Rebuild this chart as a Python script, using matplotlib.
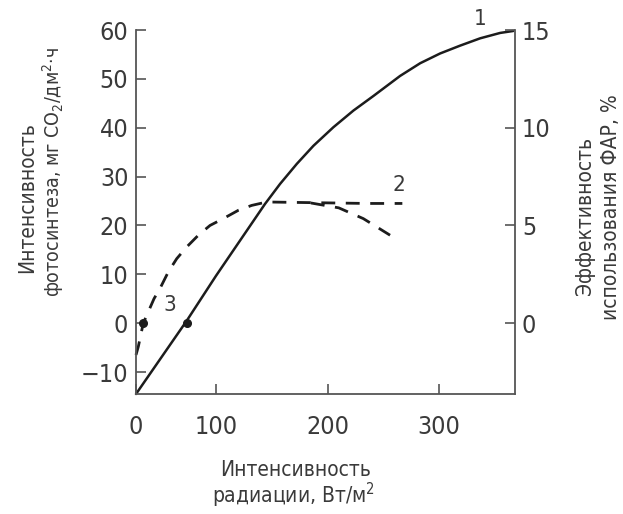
import numpy as np
import matplotlib
matplotlib.use("Agg")
import matplotlib.pyplot as plt
from matplotlib import font_manager

# ---------------- data ----------------
# Curve 1: photosynthesis intensity (left axis)
c1_x = [0, 63.4, 100, 121.5, 143.9, 157.4, 172.4, 187.3, 205.2, 223.1, 241.1,
        265.0, 283.0, 300.9, 318.8, 336.8, 354.7, 366.4]
c1_y = [-14.5, 0.5, 9.7, 16.9, 24.4, 28.5, 32.6, 36.3, 40.1, 43.5, 46.5,
        50.6, 53.2, 55.2, 56.8, 58.3, 59.4, 59.8]
# Curve 2: PAR use efficiency (dashed, in left-axis units)
c2_x = [0, 2.9, 9.1, 22.5, 30.9, 40.4, 50.9, 63.4, 77.9, 92.5, 106.5, 120,
        132, 145.5, 175, 205, 235, 267]
c2_y = [-6.5, -4.8, 0, 5.0, 7.4, 10.5, 13.2, 15.6, 18.0, 20.0, 21.4, 23.1,
        24.1, 24.8, 24.7, 24.6, 24.5, 24.5]
# Curve 2 descending branch
c2b_x = [185, 210, 232, 256]
c2b_y = [24.6, 23.6, 21.4, 18.0]
# Points 3 (compensation points)
p3_x = [9.1, 63.4]
p3_y = [0, 0]

x_ticks = [0, 100, 200, 300]
x_ticklabels = ["0", "100", "200", "300"]
yl_ticks = [-10, 0, 10, 20, 30, 40, 50, 60]
yl_ticklabels = ["\u221210", "0", "10", "20", "30", "40", "50", "60"]
yr_ticks = [0, 5, 10, 15]
yr_ticklabels = ["0", "5", "10", "15"]

curve_labels = ["1", "2", "3"]
curve_label_pos = [(336.8, 62.2), (263.5, 28.2), (42.5, 3.7)]

ylabel_left = ["Интенсивность", "фотосинтеза, мг CO$_2$/дм$^2$·ч"]
ylabel_right = ["Эффективность", "использования ФАР, %"]
xlabel = ["Интенсивность", "радиации, Вт/м$^2$"]

# ---------------- style ----------------
names = {f.name for f in font_manager.fontManager.ttflist}
if "Liberation Sans Narrow" in names:
    FONT = ["Liberation Sans Narrow", "DejaVu Sans"]
else:
    FONT = ["DejaVu Sans"]
plt.rcParams["font.family"] = FONT
plt.rcParams["font.stretch"] = "condensed"
plt.rcParams["mathtext.fontset"] = "custom"
plt.rcParams["mathtext.rm"] = FONT[0] + ":stretch=condensed"
plt.rcParams["mathtext.it"] = FONT[0] + ":stretch=condensed"
TXT = "#3a3a3a"
LINE = "#1c1c1c"
SPINE = "#555555"

W, H = 623, 514
fig = plt.figure(figsize=(W / 100, H / 100), dpi=100)
ax = fig.add_axes([136 / W, (H - 394) / H, (515 - 136) / W, (394 - 30) / H])

# compressed first interval of x axis (as in the original drawing)
k = 0.8 / 1.115
def fwd(x):
    x = np.asarray(x, dtype=float)
    return np.where(x <= 100, x * k, 100 * k + (x - 100))
def inv(u):
    u = np.asarray(u, dtype=float)
    return np.where(u <= 100 * k, u / k, u - 100 * k + 100)
ax.set_xscale("function", functions=(fwd, inv))

ax.plot(c1_x, c1_y, color=LINE, lw=1.8, solid_capstyle="round",
        solid_joinstyle="round", clip_on=False)
ax.plot(c2_x, c2_y, color=LINE, lw=2.0, dashes=(5, 3.8), clip_on=False)
ax.plot(c2b_x, c2b_y, color=LINE, lw=2.0, dashes=(5, 3.8), clip_on=False)
ax.plot(p3_x, p3_y, "o", color=LINE, ms=5.5, clip_on=False)

for lab, (lx, ly) in zip(curve_labels, curve_label_pos):
    ax.text(lx, ly, lab, color=TXT, fontsize=16, ha="center", va="center",
            clip_on=False)

ax.set_xlim(0, 368)
ax.set_ylim(-14.5, 60)
ax.set_xticks(x_ticks)
ax.set_xticklabels(x_ticklabels)
ax.set_yticks(yl_ticks)
ax.set_yticklabels(yl_ticklabels)

ax.spines["top"].set_visible(False)
ax.spines["right"].set_visible(False)
for s in ["left", "bottom"]:
    ax.spines[s].set_color(SPINE)
    ax.spines[s].set_linewidth(1.3)
ax.tick_params(axis="y", direction="in", length=7, width=1.2, color=SPINE,
               pad=5.5, labelsize=18, labelcolor=TXT)
ax.tick_params(axis="x", direction="in", length=7.5, width=1.2, color=SPINE,
               pad=15, labelsize=18, labelcolor=TXT)

ax2 = ax.twinx()
ax2.set_ylim(-14.5 / 4, 60 / 4)
ax2.set_yticks(yr_ticks)
ax2.set_yticklabels(yr_ticklabels)
for s in ["top", "left", "bottom"]:
    ax2.spines[s].set_visible(False)
ax2.spines["right"].set_color(SPINE)
ax2.spines["right"].set_linewidth(1.3)
ax2.tick_params(axis="y", direction="in", length=7, width=1.2, color=SPINE,
                pad=5, labelsize=18, labelcolor=TXT)

# axis titles
fs_lab = 15
fig.text(27 / W, 1 - 198 / H, ylabel_left[0], rotation=90, ha="center",
         va="center", fontsize=fs_lab, color=TXT)
fig.text(53 / W, 1 - 172 / H, ylabel_left[1], rotation=90, ha="center",
         va="center", fontsize=14, color=TXT)
fig.text(585 / W, 1 - 216 / H, ylabel_right[0], rotation=90, ha="center",
         va="center", fontsize=fs_lab, color=TXT)
fig.text(611 / W, 1 - 207 / H, ylabel_right[1], rotation=90, ha="center",
         va="center", fontsize=fs_lab, color=TXT)
fig.text(296 / W, 1 - 470 / H, xlabel[0], ha="center", va="center",
         fontsize=fs_lab, color=TXT)
fig.text(293 / W, 1 - 495 / H, xlabel[1], ha="center", va="center",
         fontsize=fs_lab, color=TXT)

fig.savefig("out.png", dpi=100)
